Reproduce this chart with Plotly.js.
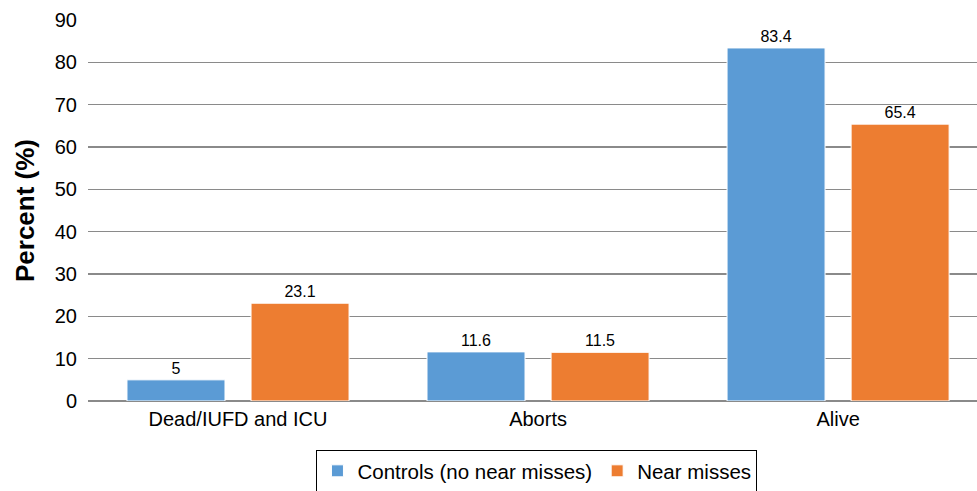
<!DOCTYPE html>
<html>
<head>
<meta charset="utf-8">
<script src="https://cdn.plot.ly/plotly-3.0.1.min.js"></script>
<style>html,body{margin:0;padding:0;background:#fff;}#chart{width:977px;height:491px;}</style>
</head>
<body>
<div id="chart"></div>
<script>
const categories = ["Dead/IUFD and ICU", "Aborts", "Alive"];
const seriesNames = ["Controls (no near misses)", "Near misses"];
const controls = [5, 11.6, 83.4];
const nearMisses = [23.1, 11.5, 65.4];
const yTicks = [0, 10, 20, 30, 40, 50, 60, 70, 80, 90];

const colors = ["#5b9bd5", "#ed7d31"];
const fontFam = "Liberation Sans, Arial, sans-serif";

function mk(name, vals, color) {
  return {
    type: "bar", name: name, x: categories, y: vals,
    marker: {color: color, line: {color: "#ffffff", width: 1}},
    text: vals.map(v => String(v)), textposition: "outside", cliponaxis: false,
    textfont: {family: fontFam, size: 16, color: "#000"}
  };
}

const data = [mk(seriesNames[0], controls, colors[0]), mk(seriesNames[1], nearMisses, colors[1])];

const layout = {
  width: 977, height: 491,
  margin: {l: 88, r: 0, t: 20, b: 90},
  paper_bgcolor: "#fff", plot_bgcolor: "#fff",
  barmode: "group", bargap: 0.173, bargroupgap: 0.21,
  showlegend: true,
  legend: {
    orientation: "h", xref: "container", yref: "container",
    x: 0.5496, xanchor: "center", y: 0.0835, yanchor: "top",
    font: {family: fontFam, size: 20.5, color: "#000"},
    bordercolor: "#000", borderwidth: 1, bgcolor: "#fff", traceorder: "normal"
  },
  xaxis: {
    type: "category", range: [-0.5, 2.463], automargin: false,
    showgrid: false, zeroline: false, showline: false,
    ticks: "", ticklabelstandoff: 4,
    tickfont: {family: fontFam, size: 20, color: "#000"}
  },
  yaxis: {
    range: [0, 90], tickvals: yTicks, ticktext: yTicks.map(String), automargin: false,
    showgrid: true, gridcolor: "#8a8a8a", gridwidth: 1.5,
    zeroline: true, zerolinecolor: "#8a8a8a", zerolinewidth: 1.5,
    showline: false, ticks: "outside", ticklen: 6, tickcolor: "rgba(0,0,0,0)",
    tickfont: {family: fontFam, size: 20, color: "#000"},
    title: {text: "Percent (%)", font: {family: fontFam, size: 26, color: "#000", weight: "bold"}, standoff: 12}
  },
  font: {family: fontFam}
};

Plotly.newPlot("chart", data, layout, {displayModeBar: false, staticPlot: true});
</script>
</body>
</html>
